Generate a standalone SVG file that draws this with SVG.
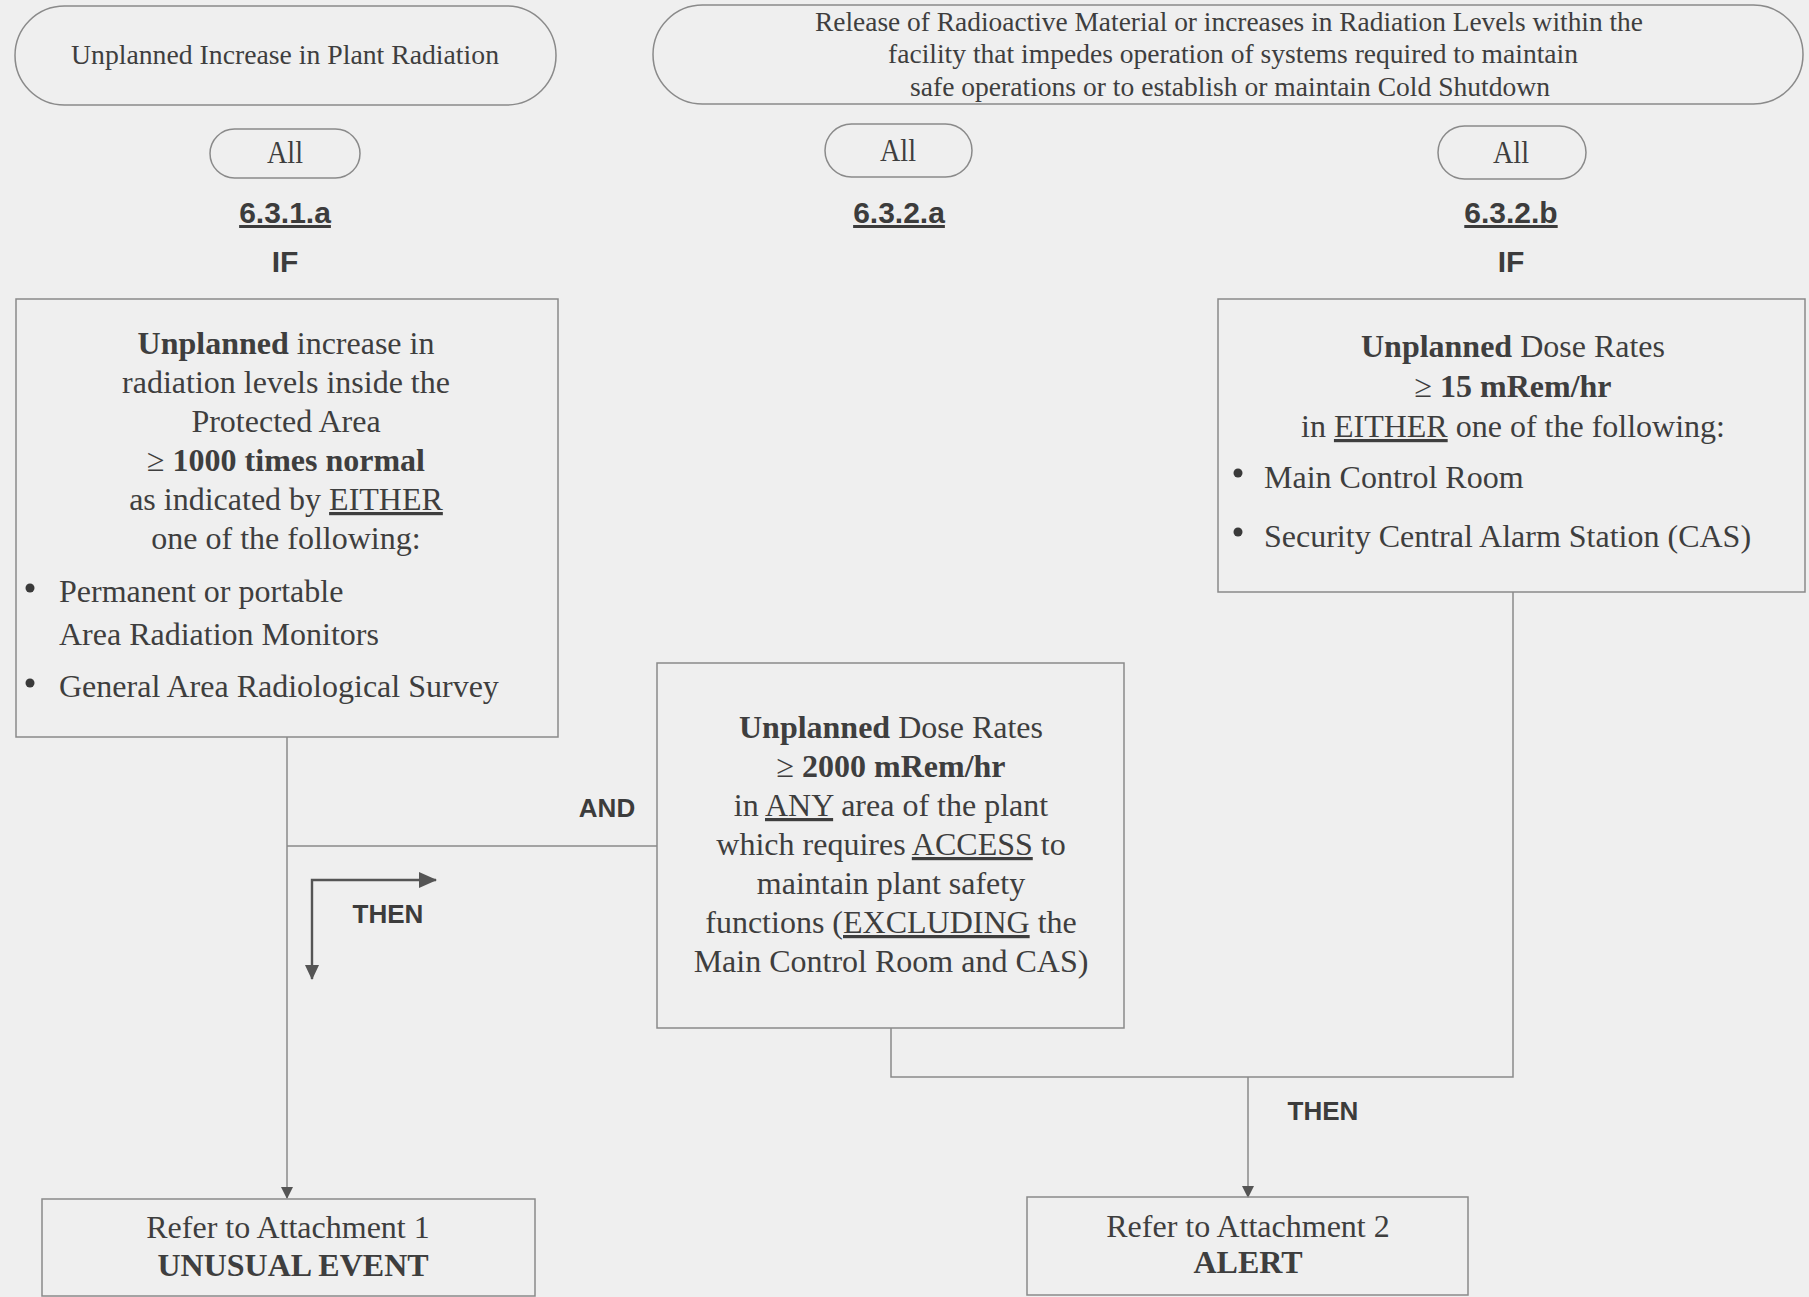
<svg xmlns="http://www.w3.org/2000/svg" width="1809" height="1297" viewBox="0 0 1809 1297">
<style>
.bg{fill:#efefef}
.shape{fill:none;stroke:#8a8a8a;stroke-width:1.5}
.line{fill:none;stroke:#8a8a8a;stroke-width:1.5}
.arrowline{fill:none;stroke:#555;stroke-width:2.4}
.serif{font-family:"Liberation Serif","Times New Roman",serif;fill:#3e3e3e}
.t32{font-size:32px}
.t27{font-size:27px}
.all{font-size:31px}
.sans{font-family:"Liberation Sans",Arial,sans-serif;font-weight:bold;fill:#3c3c3c}
.code{font-size:30px}
.lbl{font-size:26px}
.c{text-anchor:middle}
.b{font-weight:bold}
.u{text-decoration:underline}
.bullet{fill:#3a3a3a}
</style>
<defs>
<marker id="arr" viewBox="0 0 12 12" refX="11" refY="6" markerWidth="12" markerHeight="12" markerUnits="userSpaceOnUse" orient="auto">
<path d="M0,0 L12,6 L0,12 Z" fill="#555"/>
</marker>
<marker id="arrBig" viewBox="0 0 18 16" refX="17" refY="8" markerWidth="18" markerHeight="16" markerUnits="userSpaceOnUse" orient="auto">
<path d="M0,0 L18,8 L0,16 Z" fill="#555"/>
</marker>
<marker id="arrMid" viewBox="0 0 15 14" refX="14" refY="7" markerWidth="15" markerHeight="14" markerUnits="userSpaceOnUse" orient="auto">
<path d="M0,0 L15,7 L0,14 Z" fill="#555"/>
</marker>
</defs>
<rect class="bg" x="0" y="0" width="1809" height="1297"/>

<g id="connectors">
<line class="line" x1="287" y1="737" x2="287" y2="1198" marker-end="url(#arr)"/>
<line class="line" x1="287" y1="846" x2="657" y2="846"/>
<polyline class="line" points="891,1028 891,1077 1513,1077 1513,592"/>
<line class="line" x1="1248" y1="1077" x2="1248" y2="1197" marker-end="url(#arr)"/>
<path class="arrowline" d="M312,900 L312,880 L436,880" marker-end="url(#arrBig)"/>
<line class="arrowline" x1="312" y1="900" x2="312" y2="979" marker-end="url(#arrMid)"/>
<text class="sans lbl c" x="607" y="817">AND</text>
<text class="sans lbl c" x="388" y="923">THEN</text>
<text class="sans lbl c" x="1323" y="1120">THEN</text>
</g>

<g id="category-unplanned-increase">
<rect class="shape" x="15" y="6" width="541" height="99" rx="49.5"/>
<text class="serif t27 c" x="285" y="64" textLength="428" lengthAdjust="spacingAndGlyphs">Unplanned Increase in Plant Radiation</text>
</g>

<g id="category-release">
<rect class="shape" x="653" y="5" width="1150" height="99" rx="49.5"/>
<text class="serif t27 c" x="1229" y="31" textLength="828" lengthAdjust="spacingAndGlyphs">Release of Radioactive Material or increases in Radiation Levels within the</text>
<text class="serif t27 c" x="1233" y="63" textLength="690" lengthAdjust="spacingAndGlyphs">facility that impedes operation of systems required to maintain</text>
<text class="serif t27 c" x="1230" y="96" textLength="640" lengthAdjust="spacingAndGlyphs">safe operations or to establish or maintain Cold Shutdown</text>
</g>

<g id="mode-631a">
<rect class="shape" x="210" y="129" width="150" height="49" rx="24.5"/>
<text class="serif all c" x="285" y="163" textLength="36" lengthAdjust="spacingAndGlyphs">All</text>
<text class="sans code c u" x="285" y="223">6.3.1.a</text>
<text class="sans code c" x="285" y="272">IF</text>
</g>

<g id="mode-632a">
<rect class="shape" x="825" y="124" width="147" height="53" rx="26.5"/>
<text class="serif all c" x="898" y="161" textLength="36" lengthAdjust="spacingAndGlyphs">All</text>
<text class="sans code c u" x="899" y="223">6.3.2.a</text>
</g>

<g id="mode-632b">
<rect class="shape" x="1438" y="126" width="148" height="53" rx="26.5"/>
<text class="serif all c" x="1511" y="163" textLength="36" lengthAdjust="spacingAndGlyphs">All</text>
<text class="sans code c u" x="1511" y="223">6.3.2.b</text>
<text class="sans code c" x="1511" y="272">IF</text>
</g>

<g id="box-631a">
<rect class="shape" x="16" y="299" width="542" height="438"/>
<text class="serif t32 c" x="286" y="354"><tspan class="b">Unplanned</tspan> increase in</text>
<text class="serif t32 c" x="286" y="393">radiation levels inside the</text>
<text class="serif t32 c" x="286" y="432">Protected Area</text>
<text class="serif t32 c" x="286" y="471">≥ <tspan class="b">1000 times normal</tspan></text>
<text class="serif t32 c" x="286" y="510">as indicated by <tspan class="u">EITHER</tspan></text>
<text class="serif t32 c" x="286" y="549">one of the following:</text>
<circle class="bullet" cx="30" cy="588" r="4.5"/>
<text class="serif t32" x="59" y="602">Permanent or portable</text>
<text class="serif t32" x="59" y="645">Area Radiation Monitors</text>
<circle class="bullet" cx="30" cy="683" r="4.5"/>
<text class="serif t32" x="59" y="697">General Area Radiological Survey</text>
</g>

<g id="box-632b">
<rect class="shape" x="1218" y="299" width="587" height="293"/>
<text class="serif t32 c" x="1513" y="357"><tspan class="b">Unplanned</tspan> Dose Rates</text>
<text class="serif t32 c" x="1513" y="397">≥ <tspan class="b">15 mRem/hr</tspan></text>
<text class="serif t32 c" x="1513" y="437">in <tspan class="u">EITHER</tspan> one of the following:</text>
<circle class="bullet" cx="1238" cy="473" r="4.5"/>
<text class="serif t32" x="1264" y="488">Main Control Room</text>
<circle class="bullet" cx="1238" cy="532" r="4.5"/>
<text class="serif t32" x="1264" y="547">Security Central Alarm Station (CAS)</text>
</g>

<g id="box-632a">
<rect class="shape" x="657" y="663" width="467" height="365"/>
<text class="serif t32 c" x="891" y="738"><tspan class="b">Unplanned</tspan> Dose Rates</text>
<text class="serif t32 c" x="891" y="777">≥ <tspan class="b">2000 mRem/hr</tspan></text>
<text class="serif t32 c" x="891" y="816">in <tspan class="u">ANY</tspan> area of the plant</text>
<text class="serif t32 c" x="891" y="855">which requires <tspan class="u">ACCESS</tspan> to</text>
<text class="serif t32 c" x="891" y="894">maintain plant safety</text>
<text class="serif t32 c" x="891" y="933">functions (<tspan class="u">EXCLUDING</tspan> the</text>
<text class="serif t32 c" x="891" y="972">Main Control Room and CAS)</text>
</g>

<g id="result-unusual-event">
<rect class="shape" x="42" y="1199" width="493" height="97"/>
<text class="serif t32 c" x="288" y="1238">Refer to Attachment 1</text>
<text class="serif t32 c b" x="293" y="1276">UNUSUAL EVENT</text>
</g>

<g id="result-alert">
<rect class="shape" x="1027" y="1197" width="441" height="98"/>
<text class="serif t32 c" x="1248" y="1237">Refer to Attachment 2</text>
<text class="serif t32 c b" x="1248" y="1273">ALERT</text>
</g>
</svg>
